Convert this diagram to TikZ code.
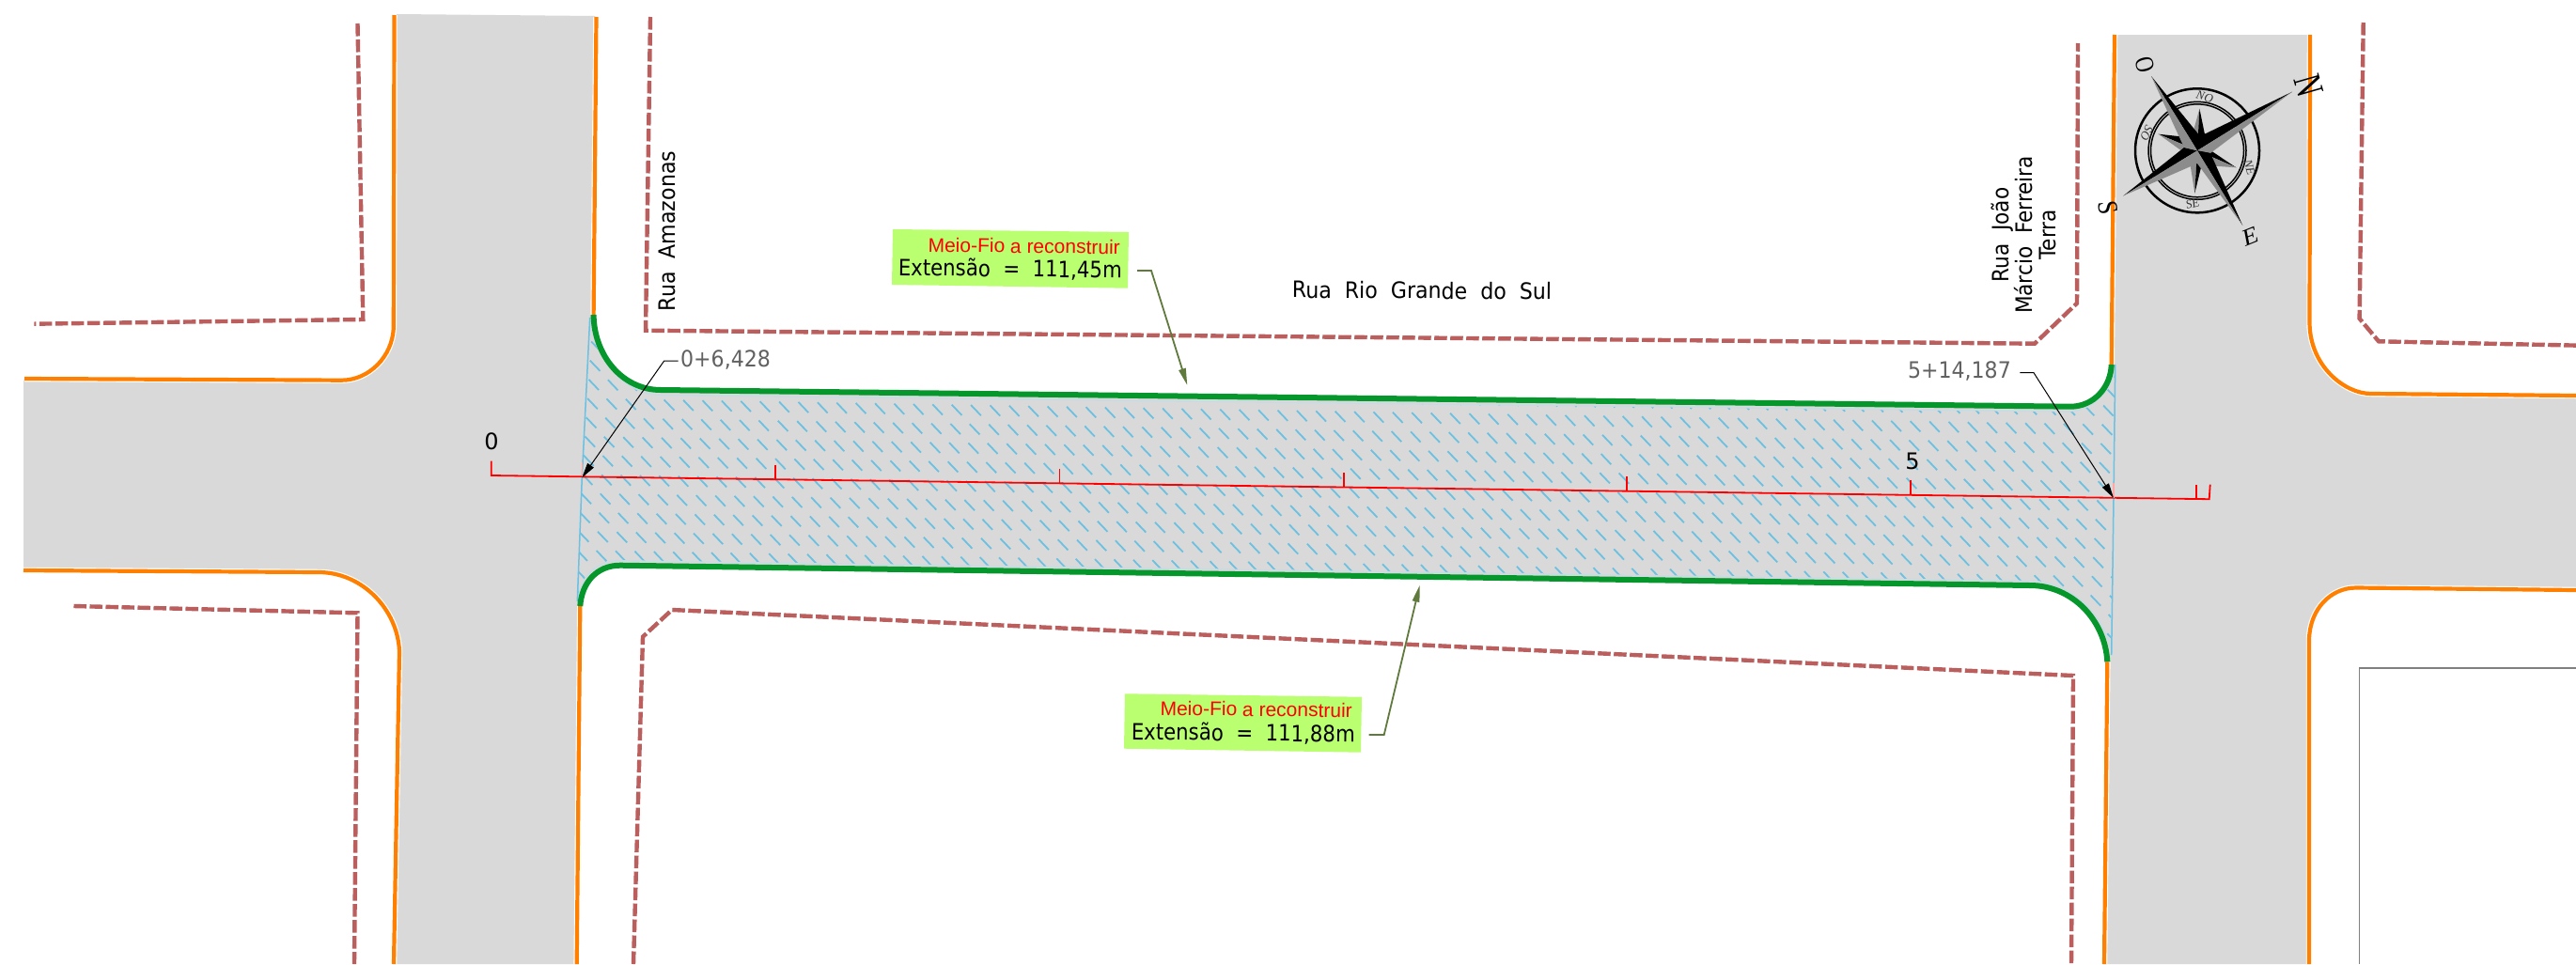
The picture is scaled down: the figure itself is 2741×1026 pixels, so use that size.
\documentclass[tikz,border=0pt]{standalone}
\usepackage{fontspec}
\setmainfont{DejaVu Sans}
\newfontfamily\arialf{Liberation Sans}
\newfontfamily\serifc{Liberation Serif}
\usetikzlibrary{arrows.meta}
\definecolor{roadgray}{HTML}{D9D9D9}
\definecolor{curborange}{HTML}{FF8000}
\definecolor{curbgreen}{HTML}{05972B}
\definecolor{lotbrown}{HTML}{BA5E5E}
\definecolor{hatchblue}{HTML}{6CC0E0}
\definecolor{paleblue}{HTML}{C4DCE6}
\definecolor{boxgreen}{HTML}{B9FF70}
\definecolor{leadergreen}{HTML}{5F7A3C}
\tikzset{
  x=1pt,y=-1pt,
  halo/.style={draw=white,line width=6.5pt},
  orangeline/.style={draw=curborange,line width=4.2pt},
  greenline/.style={draw=curbgreen,line width=6pt},
  lotline/.style={draw=lotbrown,line width=4.4pt,dash pattern=on 13.5pt off 3.5pt},
  redline/.style={draw=red,line width=1.8pt},
  hatchline/.style={draw=hatchblue,line width=1.8pt},
  blueedge/.style={draw=hatchblue,line width=1.5pt},
  paleedge/.style={draw=paleblue,line width=1.2pt},
  roadname/.style={font=\fontsize{24}{25}\selectfont,inner sep=0pt,text=black},
  stationtxt/.style={font=\fontsize{24}{25}\selectfont,inner sep=0pt,text=black!62,xscale=.92},
  redtxt/.style={font=\arialf\fontsize{21}{24}\selectfont,text=red,inner sep=0pt,rotate=-.7},
  exttxt/.style={font=\fontsize{24}{25}\selectfont,text=black,inner sep=0pt,rotate=-.7,xscale=.886},
  calloutleader/.style={draw=leadergreen,line width=1.8pt,-{Triangle[length=18pt,width=7.5pt]}},
  stationleader/.style={draw=black,line width=1pt,-{Triangle[length=16pt,width=8pt]}},
  bigletter/.style={inner sep=0pt},
  smallletter/.style={font=\serifc\itshape\fontsize{13}{13}\selectfont,inner sep=0pt,text=black!80},
}
\begin{document}
\begin{tikzpicture}
\useasboundingbox (0,0) rectangle (2741,1026);
% road surface
\fill[roadgray] (422,15) -- (633,17) -- (631.6,335)
  .. controls (632,378) and (662,415) .. (703,415)
  -- (2203,432.7) .. controls (2228,432.7) and (2246,412) .. (2246.7,388)
  -- (2251,37) -- (2456,37) -- (2455.5,344)
  .. controls (2456,392) and (2495,421) .. (2523,421)
  -- (2741,423) -- (2741,626) -- (2507,623.5)
  .. controls (2480,623.5) and (2456,648) .. (2455,680)
  -- (2455,1026) -- (2239,1026) -- (2242.3,704.3)
  .. controls (2240,660) and (2205,623) .. (2160,623)
  -- (660,601.7) .. controls (635,601.7) and (619,620) .. (617.3,645)
  -- (613.7,1026) -- (421,1026) -- (427,693)
  .. controls (425,646) and (385,607) .. (339,607)
  -- (25,605) -- (25,405) -- (363.5,406.7)
  .. controls (394,406.7) and (420,380) .. (421,348) -- cycle;
% hatch
\begin{scope}
\clip (627.7,338) .. controls (632,382) and (664,420.5) .. (705,420.5)
  -- (2200,438) .. controls (2225,438) and (2248,416) .. (2250.7,392)
  -- (2249,530) -- (2245.7,690)
  .. controls (2238,655) and (2205,618.3) .. (2160,618.3)
  -- (660,596.7) .. controls (635,596.7) and (618,612) .. (614.3,640)
  -- (619.3,508) -- cycle;
\draw[hatchline] foreach \i in {-22,...,62} {foreach \j in {-6,...,14}
  {({1012.7+20.4*\i-1.35*\j},{430.7+.35*\i+20.2*\j}) -- ++(10.7,11.2)}};
\end{scope}
\draw[paleedge] (627.7,338) .. controls (632,382) and (664,420.5) .. (705,420.5) -- (2200,438) .. controls (2225,438) and (2248,416) .. (2250.7,392);
\draw[paleedge] (2245.7,690) .. controls (2238,655) and (2205,618.3) .. (2160,618.3) -- (660,596.7) .. controls (635,596.7) and (618,612) .. (614.3,640);
\draw[blueedge] (627.7,338) -- (619.3,508) -- (614.3,640);
\draw[blueedge] (2250.7,388) -- (2249,530) -- (2246.7,697);
% curbs: white halo then orange
\foreach \s/\w in {halo/0,orangeline/1}{
\draw[\s] (419.5,16) -- (418.8,348) .. controls (418,380) and (392,404.7) .. (363.5,404.7) -- (26,403);
\draw[\s] (25,607) -- (339,609) .. controls (385,609) and (423,648) .. (425,693) -- (419,1026);
\draw[\s] (634.5,18) -- (631.6,335);
\draw[\s] (617.3,645) -- (613.7,1026);
\draw[\s] (2250,37) -- (2246.7,388);
\draw[\s] (2242.3,704.3) -- (2239,1026);
\draw[\s] (2458,37) -- (2457.5,344) .. controls (2458,390) and (2495,419) .. (2523,419) -- (2741,421);
\draw[\s] (2741,628) -- (2507,625.5) .. controls (2480,625.5) and (2458,648) .. (2457,680) -- (2457,1026);
}
% reconstructed curbs
\draw[greenline] (631.6,335) .. controls (632,378) and (662,415) .. (703,415) -- (2203,432.7) .. controls (2228,432.7) and (2246,412) .. (2246.7,388);
\draw[greenline] (617.3,645) .. controls (619,620) and (635,601.7) .. (660,601.7) -- (2160,623) .. controls (2205,623) and (2240,660) .. (2242.3,704.3);
% lot lines
\draw[lotline] (380.5,25) -- (386.3,340) -- (36.4,344.7);
\draw[lotline] (692,18) -- (687,351.7) -- (2165,365.7) -- (2210,322.7) -- (2211,46);
\draw[lotline] (78.5,645) -- (380.5,652.3) -- (377,1026);
\draw[lotline] (674,1026) -- (684,677.7) -- (715,649) -- (2206,719) -- (2204,1026);
\draw[lotline] (2514.7,24) -- (2510.6,339) -- (2531,363.3) -- (2741,367.6);
% lot outline bottom right
\draw[draw=black!50,line width=1.5pt] (2741,711) -- (2510.7,711) -- (2510.7,1026);
% axis
\draw[redline] (522.7,490.7) -- (522.7,506) -- (2350.7,531.2) -- (2351.7,515.7);
\draw[redline] (2336.7,531) -- (2336.7,515.7);
\foreach \tx/\ty in {825/510.3,1127.5/514.4,1430/518.5,1731/522.7,2033/526.8}
  \draw[redline] (\tx,\ty) -- (\tx,{\ty-15.5});
\draw[draw=red!35,line width=1.2pt] (619.3,507.3) -- (619.3,492);
\draw[draw=red!35,line width=1.2pt] (2249,530) -- (2249,514);
\node[roadname] (kzero) at (523,470) {0};
\node[roadname] (kfive) at (2035,491) {5};
% road names
\node[roadname,rotate=90,xscale=.92] (amazonas) at (710,246) {Rua\ \ Amazonas};
\node[roadname,rotate=-.4,xscale=.92] (riogrande) at (1513,309) {Rua\ \ Rio\ \ Grande\ \ do\ \ Sul};
\node[roadname,rotate=90,xscale=.9,align=center] (joao) at (2153,250) {Rua\ \ João\\Márcio\ \ Ferreira\\Terra};
% station labels
\node[stationtxt,anchor=west] (stA) at (724,383) {0+6,428};
\node[stationtxt,anchor=east] (stB) at (2140,395) {5+14,187};
\coordinate (stAa) at (721.7,384); \coordinate (stAb) at (706.7,384); \coordinate (stAc) at (619.3,508.3);
\coordinate (stBa) at (2149.3,396.7); \coordinate (stBb) at (2164,396.7); \coordinate (stBc) at (2249,530);
\draw[stationleader] (stAa) -- (stAb) -- (stAc);
\draw[stationleader] (stBa) -- (stBb) -- (stBc);
% callouts
\fill[boxgreen] (950,244) -- (1201,247) -- (1200,306.7) -- (949,303) -- cycle;
\node[redtxt,anchor=east] (redA) at (1192,263) {Meio-Fio a reconstruir};
\node[exttxt,anchor=east] (extA) at (1194,288) {Extensão\ \ =\ \ 111,45m};
\coordinate (ldAa) at (1210,288); \coordinate (ldAb) at (1225,288); \coordinate (ldAc) at (1263.3,410);
\draw[calloutleader] (ldAa) -- (ldAb) -- (ldAc);
\fill[boxgreen] (1197,738.3) -- (1449,741.7) -- (1448,800.7) -- (1196,796.7) -- cycle;
\node[redtxt,anchor=east] (redB) at (1439,756) {Meio-Fio a reconstruir};
\node[exttxt,anchor=east] (extB) at (1442,782) {Extensão\ \ =\ \ 111,88m};
\coordinate (ldBa) at (1456.7,782); \coordinate (ldBb) at (1472.7,782); \coordinate (ldBc) at (1510.7,622.7);
\draw[calloutleader] (ldBa) -- (ldBb) -- (ldBc);
% compass
\coordinate (cc) at (2338,160.3);
\draw[line width=2.5pt] (cc) circle[radius=66pt];
\draw[line width=1.5pt] (cc) circle[radius=52pt];
\draw[line width=1.5pt] (cc) circle[radius=49.5pt];
% minor points
\fill[black!45] (2340.4,115.7) -- (2332,146) -- (cc) -- cycle;
\fill[black] (2340.4,115.7) -- (2347,148) -- (cc) -- cycle;
\fill[black!45] (2335.3,205.7) -- (2330,172) -- (cc) -- cycle;
\fill[black] (2335.3,205.7) -- (2343,174) -- (cc) -- cycle;
\fill[black] (2296.6,142.7) -- (2327,146) -- (cc) -- cycle;
\fill[black!45] (2296.6,142.7) -- (2322,161) -- (cc) -- cycle;
\fill[black] (2379.4,178.3) -- (2352,160) -- (cc) -- cycle;
\fill[black!45] (2379.4,178.3) -- (2347,176) -- (cc) -- cycle;
% major points
\fill[black] (2439,97.7) -- (2341,145) -- (cc) -- cycle;
\fill[black!45] (2439,97.7) -- (2352,163) -- (cc) -- cycle;
\fill[black] (2386.3,240) -- (2352,163) -- (cc) -- cycle;
\fill[black!45] (2386.3,240) -- (2338,174) -- (cc) -- cycle;
\fill[black] (2259.4,208.3) -- (2324,157) -- (cc) -- cycle;
\fill[black!45] (2259.4,208.3) -- (2338,174) -- (cc) -- cycle;
\fill[black] (2289,81) -- (2341,145) -- (cc) -- cycle;
\fill[black!45] (2289,81) -- (2324,157) -- (cc) -- cycle;
\node[bigletter,font=\serifc\fontsize{42}{42}\selectfont,rotate=-74,xscale=.72] (cN) at (2457,91) {N};
\node[bigletter,font=\serifc\fontsize{28}{28}\selectfont,rotate=-75,xscale=.8] (cO) at (2282,69) {O};
\node[bigletter,font=\serifc\fontsize{30}{30}\selectfont,rotate=-82,xscale=.85] (cS) at (2243,221) {S};
\node[bigletter,font=\serifc\itshape\fontsize{25}{25}\selectfont,rotate=22,xscale=1.1] (cE) at (2394,252) {E};
\node[smallletter,rotate=-15] (cNO) at (2346,103) {NO};
\node[smallletter,rotate=-75] (cNE) at (2393.7,178) {NE};
\node[smallletter,rotate=15] (cSE) at (2333,217) {SE};
\node[smallletter,rotate=-115] (cSO) at (2284,141.7) {SO};
\end{tikzpicture}
\end{document}
